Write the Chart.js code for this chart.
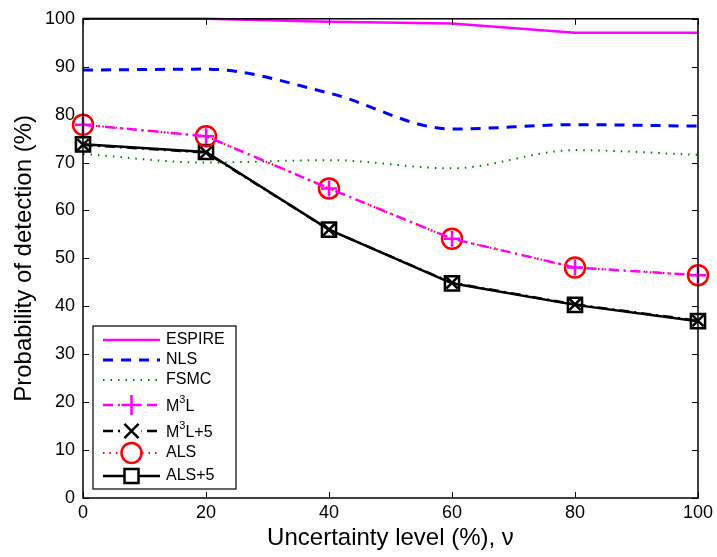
<!DOCTYPE html>
<html>
<head>
<meta charset="utf-8">
<script src="https://cdn.jsdelivr.net/npm/chart.js@4/dist/chart.umd.min.js"></script>
<style>
  html, body { margin: 0; padding: 0; background: #fff; }
  #wrap { width: 717px; height: 557px; }
</style>
</head>
<body>
<div id="wrap"><canvas id="myChart" width="717" height="557"></canvas></div>
<script>
// values
const levels = [0, 20, 40, 60, 80, 100]
const espire = [100, 100, 99.4, 99.0, 97.1, 97.1]
const nls = [89.3, 89.5, 84.5, 77.0, 77.9, 77.6]
const fsmc = [71.8, 70.0, 70.5, 68.8, 72.6, 71.6]
const m3l = [77.9, 75.5, 64.6, 54.1, 48.1, 46.5]
const m3l5 = [73.7, 72.1, 56.0, 44.9, 40.4, 37.0]
const als = [77.9, 75.5, 64.6, 54.1, 48.1, 46.5]
const als5 = [73.8, 72.2, 56.0, 44.8, 40.3, 36.9]
const yTicks = [0, 10, 20, 30, 40, 50, 60, 70, 80, 90, 100]
const xTicks = [0, 20, 40, 60, 80, 100]

const font = "'Liberation Sans', Arial, sans-serif"

function pts(arr) {
    return levels.map((x, i) => ({x: x, y: arr[i]}))
}

const datasets = [
    {label: 'ESPIRE', data: pts(espire), borderColor: '#ff00ff', borderWidth: 2.5, pointRadius: 0},
    {label: 'NLS', data: pts(nls), borderColor: '#0000ff', borderWidth: 3, borderDash: [10, 8], pointRadius: 0, cubicInterpolationMode: 'monotone'},
    {label: 'FSMC', data: pts(fsmc), borderColor: '#008000', borderWidth: 2, borderDash: [1.5, 6], pointRadius: 0, cubicInterpolationMode: 'monotone'},
    {label: 'M³L', data: pts(m3l), borderColor: '#ff00ff', borderWidth: 2.5, borderDash: [10, 5, 2, 5], pointStyle: 'cross', pointRadius: 8, pointBorderWidth: 2.5, pointBorderColor: '#ff00ff', pointBackgroundColor: 'transparent'},
    {label: 'M³L+5', data: pts(m3l5), borderColor: '#000', borderWidth: 2.5, borderDash: [10, 5, 2, 5], pointStyle: 'crossRot', pointRadius: 8, pointBorderWidth: 2.5, pointBorderColor: '#000', pointBackgroundColor: 'transparent'},
    {label: 'ALS', data: pts(als), borderColor: '#ff0000', borderWidth: 2, borderDash: [1.5, 5], pointStyle: 'circle', pointRadius: 10, pointBorderWidth: 2.5, pointBorderColor: '#ff0000', pointBackgroundColor: 'transparent'},
    {label: 'ALS+5', data: pts(als5), borderColor: '#000', borderWidth: 2.5, pointStyle: 'rect', pointRadius: 10, pointBorderWidth: 2.5, pointBorderColor: '#000', pointBackgroundColor: 'transparent'}
]
datasets.forEach(ds => { ds.clip = false })

// legend rows (y centres) and box, matlab style inside the axes
const legendRowsY = [340, 360, 380, 405, 431, 453, 476]

const boxPlugin = {
    id: 'boxPlugin',
    afterDatasetsDraw(chart) {
        const ctx = chart.ctx
        const a = chart.chartArea
        const xs = chart.scales.x
        const ys = chart.scales.y
        ctx.save()
        ctx.strokeStyle = '#000'
        ctx.lineWidth = 1
        // inward ticks on all four sides
        xTicks.forEach(v => {
            const px = Math.round(xs.getPixelForValue(v)) + 0.5
            ctx.beginPath()
            ctx.moveTo(px, a.bottom); ctx.lineTo(px, a.bottom - 6)
            ctx.moveTo(px, a.top); ctx.lineTo(px, a.top + 6)
            ctx.stroke()
        })
        yTicks.forEach(v => {
            const py = Math.round(ys.getPixelForValue(v)) + 0.5
            ctx.beginPath()
            ctx.moveTo(a.left, py); ctx.lineTo(a.left + 6, py)
            ctx.moveTo(a.right, py); ctx.lineTo(a.right - 6, py)
            ctx.stroke()
        })
        ctx.lineWidth = 1.5
        ctx.strokeRect(a.left, a.top, a.right - a.left, a.bottom - a.top)

        // legend
        const bx = 93, by = 326, bw = 143, bh = 163
        ctx.fillStyle = '#fff'
        ctx.fillRect(bx, by, bw, bh)
        ctx.lineWidth = 1.2
        ctx.strokeRect(bx, by, bw, bh)
        const x0 = 103, x1 = 160, tx = 166
        datasets.forEach((ds, i) => {
            const y = legendRowsY[i]
            ctx.save()
            ctx.strokeStyle = ds.borderColor
            ctx.lineWidth = ds.borderWidth
            ctx.setLineDash(ds.borderDash || [])
            ctx.beginPath()
            ctx.moveTo(x0, y); ctx.lineTo(x1, y)
            ctx.stroke()
            ctx.restore()
            if (ds.pointRadius) {
                ctx.save()
                ctx.strokeStyle = ds.pointBorderColor
                ctx.fillStyle = '#fff'
                ctx.lineWidth = ds.pointBorderWidth
                const cx = (x0 + x1) / 2, r = ds.pointRadius
                if (ds.pointStyle === 'rect' || ds.pointStyle === 'circle') {
                    ctx.beginPath()
                    if (ds.pointStyle === 'rect') ctx.rect(cx - r * 0.7, y - r * 0.7, r * 1.4, r * 1.4)
                    else ctx.arc(cx, y, r, 0, Math.PI * 2)
                    ctx.fill()
                    ctx.stroke()
                } else {
                    ctx.fillRect(cx - r - 2, y - 4, 2 * r + 4, 8)
                    Chart.helpers.drawPoint(ctx, {pointStyle: ds.pointStyle, radius: r + 2, borderWidth: ds.pointBorderWidth + 0.5}, cx, y)
                }
                ctx.restore()
            }
            ctx.fillStyle = '#000'
            ctx.font = '16px ' + font
            ctx.textBaseline = 'middle'
            ctx.textAlign = 'left'
            const lbl = ds.label
            if (lbl.indexOf('³') >= 0) {
                const parts = lbl.split('³')
                ctx.fillText(parts[0], tx, y + 2)
                let w = ctx.measureText(parts[0]).width
                ctx.font = '11px ' + font
                ctx.fillText('3', tx + w, y - 5)
                w += ctx.measureText('3').width
                ctx.font = '16px ' + font
                ctx.fillText(parts[1], tx + w, y + 2)
            } else {
                ctx.fillText(lbl, tx, y)
            }
        })
        ctx.restore()
    }
}

const config = {
    type: 'line',
    data: {datasets: datasets},
    options: {
        responsive: false,
        animation: false,
        layout: {padding: {top: 12, right: 17, left: 6, bottom: 0}},
        plugins: {legend: {display: false}, tooltip: {enabled: false}},
        scales: {
            x: {
                type: 'linear', min: 0, max: 100,
                afterBuildTicks: s => { s.ticks = xTicks.map(v => ({value: v})) },
                afterFit: s => { s.height = 59 },
                grid: {display: false, drawTicks: false},
                border: {display: false},
                ticks: {color: '#000', font: {family: font, size: 18}, padding: 4, maxRotation: 0},
                title: {display: true, text: 'Uncertainty level (%), ν', color: '#000', font: {family: font, size: 24}, padding: {top: 0}}
            },
            y: {
                type: 'linear', min: 0, max: 100,
                afterBuildTicks: s => { s.ticks = yTicks.map(v => ({value: v})) },
                afterFit: s => { s.width = 77 },
                grid: {display: false, drawTicks: false},
                border: {display: false},
                ticks: {color: '#000', font: {family: font, size: 18}, padding: 8},
                title: {display: true, text: 'Probability of detection (%)', color: '#000', font: {family: font, size: 24}, padding: {bottom: 0}}
            }
        }
    },
    plugins: [boxPlugin]
}

const myChart = new Chart(document.getElementById('myChart'), config)
</script>
</body>
</html>
